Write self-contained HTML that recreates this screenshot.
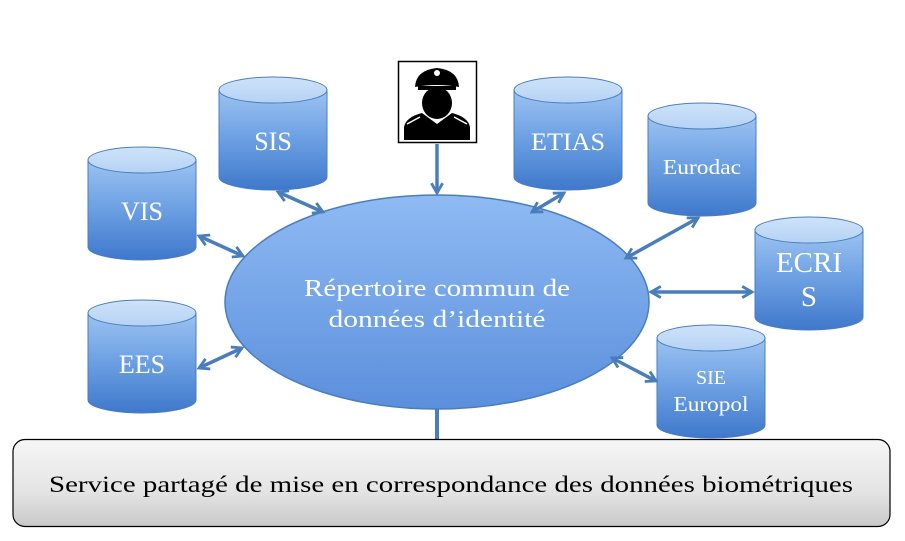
<!DOCTYPE html>
<html><head><meta charset="utf-8"><style>
html,body{margin:0;padding:0;background:#fff;width:905px;height:541px;overflow:hidden}
svg text{font-family:"Liberation Serif",serif}
</style></head><body>
<svg width="905" height="541" viewBox="0 0 905 541" xmlns="http://www.w3.org/2000/svg">
<defs>
<linearGradient id="cb" x1="0" y1="0" x2="0" y2="1">
<stop offset="0" stop-color="#9cc3f2"/><stop offset="0.5" stop-color="#6b9fe2"/><stop offset="1" stop-color="#3f78cc"/>
</linearGradient>
<linearGradient id="ct" x1="0" y1="0" x2="0" y2="1">
<stop offset="0" stop-color="#cfe3f9"/><stop offset="1" stop-color="#b4d2f5"/>
</linearGradient>
<linearGradient id="el" x1="0" y1="0" x2="0" y2="1">
<stop offset="0" stop-color="#8fbaf3"/><stop offset="1" stop-color="#5b8fdc"/>
</linearGradient>
<linearGradient id="bx" x1="0" y1="0" x2="0" y2="1">
<stop offset="0" stop-color="#f6f6f6"/><stop offset="0.6" stop-color="#e4e4e4"/><stop offset="1" stop-color="#c9c9c9"/>
</linearGradient>
<marker id="ah" viewBox="0 0 10 10" refX="8" refY="5" markerWidth="4" markerHeight="4" orient="auto-start-reverse">
<path d="M1,1 L8,5 L1,9" fill="none" stroke="#4a7ebb" stroke-width="2"/>
</marker>
<g id="cyl">
<path d="M0,13 L0,100 A54,13 0 0 0 108,100 L108,13 Z" fill="url(#cb)" stroke="#4a7ebb" stroke-width="1"/>
<ellipse cx="54" cy="13" rx="54" ry="13" fill="url(#ct)" stroke="#4a7ebb" stroke-width="1"/>
</g>
</defs>

<line x1="437" y1="405" x2="437" y2="441" stroke="#4a7ebb" stroke-width="4"/>

<ellipse cx="437" cy="302" rx="212" ry="107" fill="url(#el)" stroke="#4a7ebb" stroke-width="1.5"/>
<text x="437" y="296" font-size="24" fill="#fff" text-anchor="middle" textLength="266" lengthAdjust="spacingAndGlyphs">Répertoire commun de</text>
<text x="437" y="327" font-size="24" fill="#fff" text-anchor="middle" textLength="217" lengthAdjust="spacingAndGlyphs">données d’identité</text>

<use href="#cyl" x="219" y="77"/>
<text x="273" y="150" font-size="26" fill="#fff" text-anchor="middle">SIS</text>
<use href="#cyl" x="88" y="147"/>
<text x="142" y="220" font-size="26" fill="#fff" text-anchor="middle">VIS</text>
<use href="#cyl" x="88" y="300"/>
<text x="142" y="373" font-size="26" fill="#fff" text-anchor="middle">EES</text>
<use href="#cyl" x="514" y="77"/>
<text x="568" y="150" font-size="25" fill="#fff" text-anchor="middle" textLength="74" lengthAdjust="spacingAndGlyphs">ETIAS</text>
<use href="#cyl" x="648" y="103"/>
<text x="702" y="174" font-size="21" fill="#fff" text-anchor="middle" textLength="78" lengthAdjust="spacingAndGlyphs">Eurodac</text>
<use href="#cyl" x="755" y="217"/>
<text x="809" y="272" font-size="29" fill="#fff" text-anchor="middle">ECRI</text>
<text x="809" y="306" font-size="29" fill="#fff" text-anchor="middle">S</text>
<use href="#cyl" x="657" y="325"/>
<text x="711" y="384" font-size="20" fill="#fff" text-anchor="middle">SIE</text>
<text x="711" y="411" font-size="21" fill="#fff" text-anchor="middle" textLength="75" lengthAdjust="spacingAndGlyphs">Europol</text>

<g stroke="#4a7ebb" stroke-width="3.5" fill="none">
<line x1="278" y1="192" x2="323" y2="212" marker-start="url(#ah)" marker-end="url(#ah)"/>
<line x1="199" y1="236" x2="243" y2="256" marker-start="url(#ah)" marker-end="url(#ah)"/>
<line x1="199" y1="368" x2="242" y2="348" marker-start="url(#ah)" marker-end="url(#ah)"/>
<line x1="437" y1="144" x2="437" y2="193" marker-end="url(#ah)"/>
<line x1="564" y1="193" x2="532" y2="212" marker-start="url(#ah)" marker-end="url(#ah)"/>
<line x1="698" y1="218" x2="626" y2="258" marker-start="url(#ah)" marker-end="url(#ah)"/>
<line x1="651" y1="292" x2="752" y2="292" marker-start="url(#ah)" marker-end="url(#ah)"/>
<line x1="612" y1="358" x2="656" y2="381" marker-start="url(#ah)" marker-end="url(#ah)"/>
</g>

<rect x="398.5" y="61.5" width="78" height="81" fill="#fff" stroke="#000" stroke-width="1.5"/>
<g fill="#000">
<path d="M415,87 Q416,70 437,68 Q458,70 459,87 Q437,83 415,87 Z"/>
<rect x="418" y="86" width="38" height="4"/>
<ellipse cx="437" cy="103" rx="15" ry="16"/>
<path d="M404,140 L404,127 Q406,117 422,113 L437,124 L452,113 Q468,117 470,127 L470,140 Z"/>
</g>
<circle cx="437" cy="73" r="3" fill="#fff"/>
<path d="M407,124 L420,117 M467,124 L454,117" stroke="#fff" stroke-width="1.5"/>

<rect x="13" y="439.5" width="877" height="87" rx="12" fill="url(#bx)" stroke="#000" stroke-width="1.2"/>
<text x="451" y="492" font-size="23" fill="#000" text-anchor="middle" textLength="804" lengthAdjust="spacingAndGlyphs">Service partagé de mise en correspondance des données biométriques</text>
</svg>
</body></html>
